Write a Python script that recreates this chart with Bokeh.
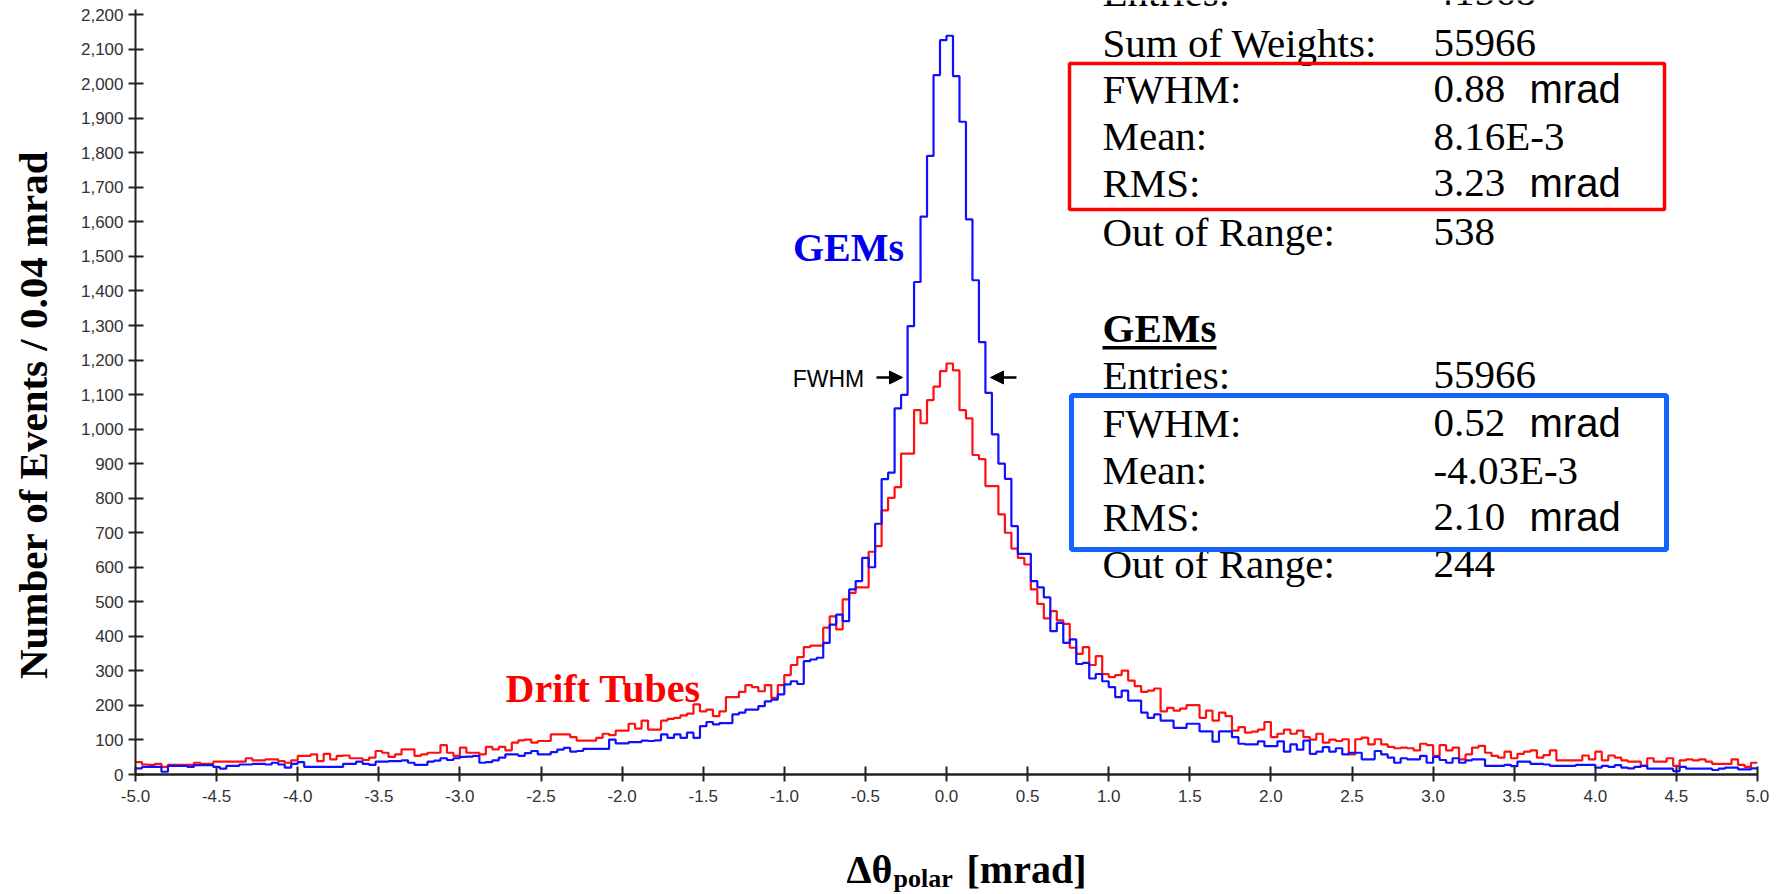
import math
from bokeh.plotting import figure
from bokeh.layouts import column, row
from bokeh.models import (ColumnDataSource, Range1d, FixedTicker, NumeralTickFormatter,
                          PrintfTickFormatter, Label, BoxAnnotation, Arrow, NormalHead)
from bokeh.embed import file_html
from bokeh.resources import INLINE

# ---------------- data ----------------
BIN_WIDTH = 0.04          # mrad
X_MIN, X_MAX = -5.0, 5.0

# GEMs histogram (blue), 250 bins of 0.04 mrad from -5 to 5
gems_counts = [
    18, 22, 22, 22, 8, 25, 25, 25, 22, 27, 27, 27, 22, 17, 25, 25, 29, 29, 31, 31,
    29, 34, 29, 20, 31, 36, 22, 22, 22, 22, 22, 22, 31, 31, 37, 31, 28, 37, 37, 39,
    39, 41, 34, 28, 28, 37, 40, 47, 42, 47, 51, 52, 54, 34, 36, 41, 49, 58, 58, 54,
    62, 68, 58, 58, 65, 72, 77,
    66, 68, 74, 74, 74, 74, 101, 90, 90, 94, 94, 98, 97, 99, 116, 106, 116, 106, 121, 106,
    140, 152, 145, 149, 149, 174, 179, 188, 188, 198, 212, 217, 232,
    261, 270, 262, 328, 333, 338, 381, 434, 463, 444, 536, 560, 627, 600, 726, 855, 874,
    1060, 1099, 1298, 1426, 1615, 1791, 2025, 2126,
    2139, 2022, 1890, 1607, 1431, 1252, 1105, 985, 900, 856, 719, 639, 639, 560, 542,
    513, 415, 439, 381, 391, 320, 323, 278, 291, 270,
    253, 224, 243, 214, 214, 179, 164, 174, 156, 156, 135, 135, 147, 147, 125, 125, 95,
    125, 125, 108, 89, 87, 87, 96, 82, 82, 96, 66, 87, 72, 98, 60, 66, 79, 66,
    76, 58, 63, 63, 44, 44, 68, 58, 49, 34, 47, 44, 44, 54, 34, 51, 42, 34, 47, 34,
    41, 44, 44, 25, 25, 25, 28, 24, 37, 37, 31, 31, 29, 25, 25, 25, 25, 28, 28, 28,
    20, 25, 22, 27, 20, 18, 22, 25, 17, 17, 17, 17, 10, 22, 17, 17, 17, 17, 13, 17,
    20, 20, 15, 15, 18,
]

# Drift Tubes histogram (red)
drift_counts = [
    36, 29, 28, 31, 22, 28, 28, 28, 28, 34, 31, 31, 37, 37, 37, 37, 37, 47, 41, 41,
    44, 44, 39, 34, 41, 54, 54, 58, 39, 60, 44, 54, 55, 47, 47, 42, 49, 68, 63, 51,
    58, 73, 73, 54, 58, 63, 63, 85, 63, 54, 78, 63, 63, 58, 80, 73, 80, 70, 92, 99,
    101, 92, 97, 97, 116, 116, 116,
    108, 98, 98, 98, 106, 118, 114, 127, 127, 147, 133, 156, 130, 130, 156, 161, 164,
    171, 176, 203, 183, 188, 169, 183, 224, 224, 239, 259, 253, 241, 259, 222, 259,
    288, 317, 340, 369, 373, 373, 425, 458, 420, 507, 526, 542, 542, 645, 661, 765, 801,
    832, 929, 929, 1055, 1017, 1084, 1123, 1168,
    1190, 1170, 1055, 1031, 925, 913, 835, 835, 753, 700, 654, 627, 608, 536, 494,
    452, 473, 446, 436, 367, 349, 369, 317, 343, 291,
    282, 288, 301, 272, 256, 239, 243, 249, 183, 193, 185, 191, 201, 201, 164, 185, 156,
    179, 169, 127, 137, 121, 124, 130, 152, 108, 118, 130, 118, 127, 108, 101, 118, 92, 101,
    97, 102, 58, 102, 107, 87, 102, 87, 80, 76, 78, 76, 70, 89, 85, 54, 85, 70, 78, 44,
    58, 78, 83, 63, 54, 49, 66, 47, 60, 66, 70, 49, 56, 70, 41, 41, 41, 41, 55, 44,
    66, 41, 55, 49, 41, 37, 37, 25, 47, 37, 37, 47, 25, 41, 44, 41, 44, 37, 31, 31,
    31, 44, 28, 22, 34,
]

x_ticks = [-5.0, -4.5, -4.0, -3.5, -3.0, -2.5, -2.0, -1.5, -1.0, -0.5, 0.0,
           0.5, 1.0, 1.5, 2.0, 2.5, 3.0, 3.5, 4.0, 4.5, 5.0]
y_ticks = [0, 100, 200, 300, 400, 500, 600, 700, 800, 900, 1000, 1100,
           1200, 1300, 1400, 1500, 1600, 1700, 1800, 1900, 2000, 2100, 2200]

y_title = "Number of Events / 0.04 mrad"
x_title_parts = ["\u0394\u03b8", "polar", "[mrad]"]

drift_stat_names = ["Entries:", "Sum of Weights:", "FWHM:", "Mean:", "RMS:", "Out of Range:"]
drift_stat_values = ["41568", "55966", "0.88", "8.16E-3", "3.23", "538"]
drift_stat_units = ["", "", "mrad", "", "mrad", ""]
gem_stat_names = ["Entries:", "FWHM:", "Mean:", "RMS:", "Out of Range:"]
gem_stat_values = ["55966", "0.52", "-4.03E-3", "2.10", "244"]
gem_stat_units = ["", "mrad", "", "mrad", ""]

assert len(gems_counts) == 250 and len(drift_counts) == 250

# ---------------- layout (pixels of the 1781x894 page) ----------------
W, H = 1781, 894
YT_W = 60                     # strip holding the y title
MAIN_H = 820                  # main figure height; strip below holds the x title
FL, FR, FT, FB = 135, 1757, 0, 774
Y_MAX = 2241                  # so that 2,200 sits ~14 px below the page top


def dx(px):
    return X_MIN + (px - FL) * (X_MAX - X_MIN) / (FR - FL)


def dy(py):
    return (FB - py) * Y_MAX / (FB - FT)


p = figure(width=W - YT_W, height=MAIN_H,
           x_range=Range1d(X_MIN, X_MAX), y_range=Range1d(0, Y_MAX),
           output_backend="svg", toolbar_location=None,
           min_border_left=FL - YT_W, min_border_right=W - FR,
           min_border_top=FT, min_border_bottom=MAIN_H - FB)
p.outline_line_color = None
p.xgrid.visible = False
p.ygrid.visible = False
p.background_fill_color = "white"
p.border_fill_color = "white"

n = len(gems_counts)
edges = [round(X_MIN + BIN_WIDTH * i, 4) for i in range(n + 1)]
src = ColumnDataSource(dict(x=edges,
                            gems=gems_counts + [gems_counts[-1]],
                            drift=drift_counts + [drift_counts[-1]]))
p.step('x', 'drift', source=src, mode='after', line_color='#ff1010', line_width=2.2)
p.step('x', 'gems', source=src, mode='after', line_color='#1010ff', line_width=2.2)

AX_COLOR = "#222222"
LBL_COLOR = "#333333"
for ax in (p.xaxis[0], p.yaxis[0]):
    ax.axis_line_color = AX_COLOR
    ax.major_tick_line_color = AX_COLOR
    ax.major_tick_line_width = 2
    ax.minor_tick_line_color = None
    ax.major_tick_in = 8
    ax.major_tick_out = 7
    ax.major_label_text_font = "Liberation Sans"
    ax.major_label_text_font_size = "17px"
    ax.major_label_text_color = LBL_COLOR
p.xaxis[0].axis_line_width = 2.5
p.yaxis[0].axis_line_width = 2
p.xaxis[0].ticker = FixedTicker(ticks=x_ticks)
p.xaxis[0].formatter = PrintfTickFormatter(format="%.1f")
p.xaxis[0].major_label_standoff = 8
p.yaxis[0].ticker = FixedTicker(ticks=y_ticks)
p.yaxis[0].formatter = NumeralTickFormatter(format="0,0")
p.yaxis[0].major_label_standoff = 5
p.yaxis[0].bounds = (y_ticks[0], y_ticks[-1] + 15)


def lab(fig, text, x, y, size, font="Liberation Serif", style="normal", color="black",
        align="left", angle=0.0):
    fig.add_layout(Label(x=x, y=y, text=text, text_font=font,
                         text_font_size=f"{size}px", text_font_style=style,
                         text_color=color, text_align=align, text_baseline="middle",
                         angle=angle))


def mlab(text, px, py, size, **kw):
    lab(p, text, dx(px), dy(py), size, **kw)


# curve names
mlab("GEMs", 848, 247, 40, style="bold", color="#0000ee", align="center")
mlab("Drift Tubes", 505, 688, 40, style="bold", color="#ff0000")

# FWHM marker
mlab("FWHM", 828, 378, 23, font="Liberation Sans", align="center")
head_kw = dict(size=13, fill_color="black", line_color="black", line_width=1)
p.add_layout(Arrow(end=NormalHead(**head_kw), x_start=dx(876), y_start=dy(377),
                   x_end=dx(902), y_end=dy(377), line_color="black", line_width=2.5))
p.add_layout(Arrow(end=NormalHead(**head_kw), x_start=dx(1016), y_start=dy(377),
                   x_end=dx(990), y_end=dy(377), line_color="black", line_width=2.5))

# statistics blocks
NAME_X, VAL_X, UNIT_X = 1102, 1433, 1529
STAT_SIZE = 41
block1 = [-9, 42, 88, 135.5, 182.5, 231.5]
for name, val, unit, cy in zip(drift_stat_names, drift_stat_values, drift_stat_units, block1):
    mlab(name, NAME_X, cy, STAT_SIZE)
    mlab(val, VAL_X, cy, STAT_SIZE)
    if unit:
        mlab(unit, UNIT_X, cy, STAT_SIZE - 1, font="Liberation Sans")

mlab("GEMs", NAME_X, 327.5, STAT_SIZE, style="bold")
p.add_layout(BoxAnnotation(left=dx(NAME_X), right=dx(1216), top=dy(345.5), bottom=dy(349),
                           fill_color="black", fill_alpha=1, line_color=None))
block2 = [374, 422.5, 469, 516.5, 563.5]
for name, val, unit, cy in zip(gem_stat_names, gem_stat_values, gem_stat_units, block2):
    mlab(name, NAME_X, cy, STAT_SIZE)
    mlab(val, VAL_X, cy, STAT_SIZE)
    if unit:
        mlab(unit, UNIT_X, cy, STAT_SIZE - 1, font="Liberation Sans")

p.add_layout(BoxAnnotation(left=dx(1069), right=dx(1664), top=dy(63), bottom=dy(209),
                           fill_alpha=0, line_color="#ff0000", line_alpha=1, line_width=3.5))
p.add_layout(BoxAnnotation(left=dx(1071), right=dx(1666), top=dy(395), bottom=dy(549),
                           fill_alpha=0, line_color="#1464ff", line_alpha=1, line_width=5))


# ---------------- title strips (pixel coordinates, y downwards) ----------------
def strip(width, height):
    f = figure(width=width, height=height, x_range=Range1d(0, width),
               y_range=Range1d(height, 0), output_backend="svg", toolbar_location=None,
               x_axis_location=None, y_axis_location=None,
               min_border=0, min_border_left=0, min_border_right=0,
               min_border_top=0, min_border_bottom=0)
    f.outline_line_color = None
    f.xgrid.visible = False
    f.ygrid.visible = False
    f.background_fill_color = "white"
    f.border_fill_color = "white"
    return f


yfig = strip(YT_W, MAIN_H)
lab(yfig, y_title, 32, 439, 41, style="bold", align="center", angle=math.pi / 2)

xfig = strip(W, H - MAIN_H)
oy = MAIN_H
lab(xfig, x_title_parts[0], 846, 869 - oy, 40, style="bold")
lab(xfig, x_title_parts[1], 893, 878 - oy, 26, style="bold")
lab(xfig, x_title_parts[2], 966, 869 - oy, 40, style="bold")

layout = column(row(yfig, p, spacing=0), xfig, spacing=0)

open("out.html", "w").write(file_html(layout, INLINE))
